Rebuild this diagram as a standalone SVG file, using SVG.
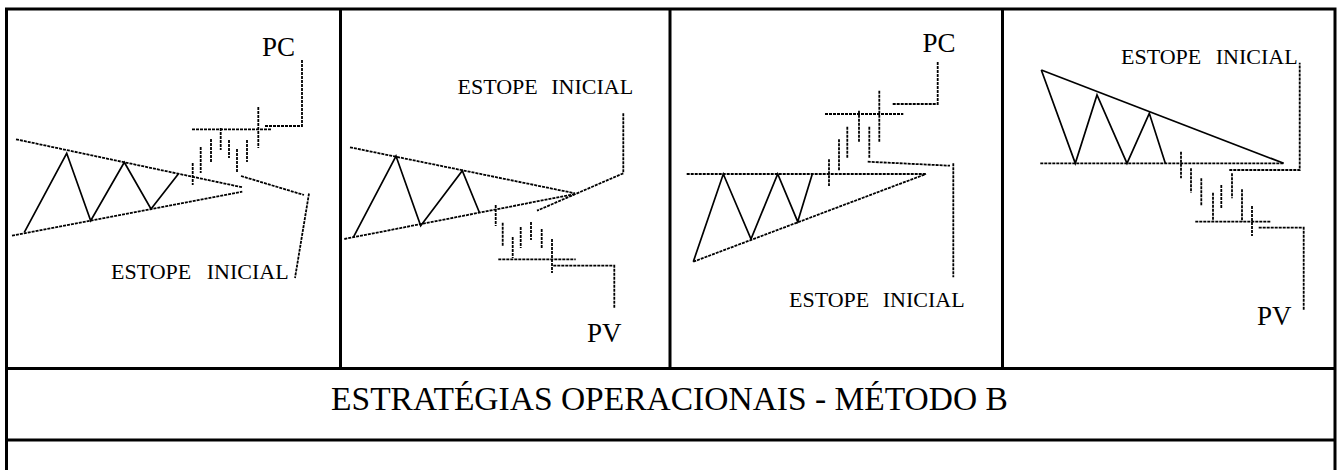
<svg xmlns="http://www.w3.org/2000/svg" width="1337" height="470" viewBox="0 0 1337 470">
<style>
.frame{fill:none;stroke:#000;stroke-width:3}
.dash{fill:none;stroke:#000;stroke-width:1.8;stroke-dasharray:3 1}
.solid{fill:none;stroke:#000;stroke-width:1.7;stroke-linejoin:miter}
.lbl{font-family:"Liberation Serif","Times New Roman",serif;font-size:22px;fill:#000}
.big{font-family:"Liberation Serif","Times New Roman",serif;font-size:27px;fill:#000}
.title{font-family:"Liberation Serif","Times New Roman",serif;font-size:33.5px;fill:#000}
</style>
<rect x="0" y="0" width="1337" height="470" fill="#fff"/>
<g id="frame">
<path class="frame" d="M6.5,472 V9 H1335 V472"/>
<line class="frame" x1="340.5" y1="9" x2="340.5" y2="368.5"/>
<line class="frame" x1="670" y1="9" x2="670" y2="368.5"/>
<line class="frame" x1="1002.5" y1="9" x2="1002.5" y2="368.5"/>
<line class="frame" x1="6.5" y1="368.5" x2="1335" y2="368.5"/>
<line class="frame" x1="6.5" y1="440" x2="1335" y2="440"/>
</g>
<g id="panel1">
<path class="dash" d="M16,139.3 L242.3,187.3"/>
<path class="dash" d="M12,235.7 L242.3,191.7"/>
<path class="solid" d="M24.3,232.3 L66.7,153.3 L90.7,220.7 L124.3,162.3 L151,209 L178.3,174"/>
<path class="dash" d="M192.7,163 V185 M200.7,147 V173 M211,139 V162 M220.7,128 V150 M229,140 V158 M237,149 V172 M247,140 V162 M258.3,107 V148"/>
<path class="dash" d="M192,129.3 H271.7"/>
<path class="dash" d="M265,126 H302 V59"/>
<path class="dash" d="M241,176 L304,195"/>
<path class="dash" d="M309,193.5 L295,278"/>
<text class="big" x="262" y="56">PC</text>
<text class="lbl" x="111" y="279">ESTOPE<tspan dx="10"> INICIAL</tspan></text>
</g>
<g id="panel2">
<path class="dash" d="M350,147.3 L575,193.3"/>
<path class="dash" d="M344.3,239 L575,194"/>
<path class="solid" d="M353.3,237.3 L396,156 L420.7,225.7 L462.3,170.7 L479.3,212.3"/>
<path class="dash" d="M495.7,205 V226 M502.7,222.7 V246.7 M512.7,237 V258 M520.7,227 V248 M531,222 V240 M541.7,229 V248 M552,239 V273"/>
<path class="dash" d="M498.3,259.3 H575.7"/>
<path class="dash" d="M553.3,265.7 H614.3 V308.3"/>
<path class="dash" d="M623.3,113.3 V173.3 L537,210.7"/>
<text class="lbl" x="457.5" y="94">ESTOPE<tspan dx="8"> INICIAL</tspan></text>
<text class="big" x="587" y="342">PV</text>
</g>
<g id="panel3">
<path class="dash" d="M686.7,174 H926"/>
<path class="dash" d="M693.3,261.7 L926,174"/>
<path class="solid" d="M693.3,261.7 L723.3,174 L751,239 L777.7,174 L797.7,221.7 L812.3,174"/>
<path class="dash" d="M829,159.3 V186 M839,139.3 V170.7 M847.3,126.7 V158.3 M859,110.7 V142.7 M869.3,126.7 V158.3 M879.3,90.7 V142.7"/>
<path class="dash" d="M825,114 H903.3"/>
<path class="dash" d="M892.7,104 H937.7 V61.7"/>
<path class="dash" d="M867.7,161.7 L950,165.7"/>
<path class="dash" d="M953.3,163.3 V277.3"/>
<text class="big" x="922.5" y="51.7">PC</text>
<text class="lbl" x="789" y="307.3">ESTOPE<tspan dx="8"> INICIAL</tspan></text>
</g>
<g id="panel4">
<path class="dash" d="M1040.3,163.3 H1283.7"/>
<path class="solid" d="M1041.3,70 L1283.7,163.3"/>
<path class="solid" d="M1041.3,70 L1075.3,163.3 L1097,95 L1127,163.3 L1149.3,113.3 L1165.3,163.3"/>
<path class="dash" d="M1181,151.7 V178.3 M1191,168.3 V192.7 M1201.3,178.3 V206 M1213,192.7 V221.7 M1221.3,185 V208.3 M1232,173.3 V198.3 M1242,189.3 V221.7 M1252,206 V236"/>
<path class="dash" d="M1195.3,221.7 H1270.3"/>
<path class="dash" d="M1258.7,227.7 H1303.7 V310"/>
<path class="dash" d="M1229.3,170 H1299.7 V62.7"/>
<text class="lbl" x="1121" y="64.3">ESTOPE<tspan dx="9"> INICIAL</tspan></text>
<text class="big" x="1257" y="325">PV</text>
</g>
<g id="title">
<text class="title" x="669.5" y="410" text-anchor="middle">ESTRATÉGIAS OPERACIONAIS - MÉTODO B</text>
</g>
</svg>
